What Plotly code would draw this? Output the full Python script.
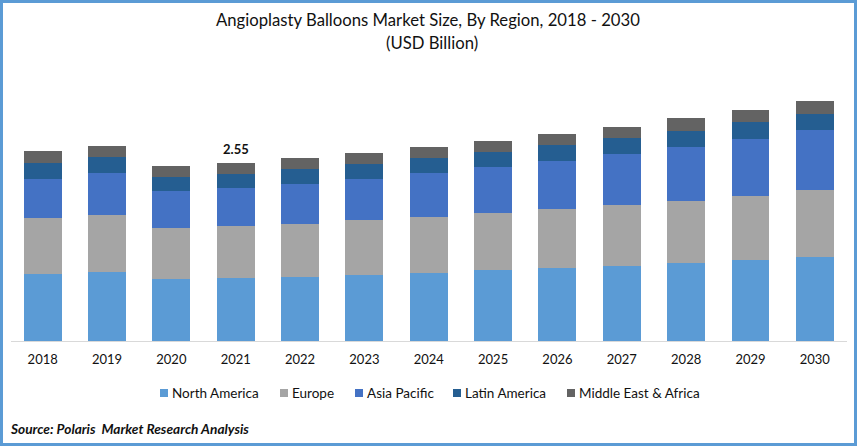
import plotly.graph_objects as go

years = ["2018","2019","2020","2021","2022","2023","2024","2025","2026","2027","2028","2029","2030"]
north_america = [0.96,0.99,0.89,0.90,0.92,0.945,0.97,1.02,1.05,1.07,1.12,1.16,1.20]
europe = [0.80,0.82,0.73,0.745,0.76,0.79,0.80,0.82,0.845,0.88,0.89,0.92,0.96]
asia_pacific = [0.56,0.59,0.53,0.545,0.57,0.59,0.63,0.66,0.69,0.73,0.77,0.82,0.86]
latin_america = [0.23,0.23,0.20,0.20,0.215,0.215,0.215,0.215,0.23,0.23,0.23,0.24,0.23]
mea = [0.17,0.17,0.16,0.16,0.16,0.16,0.16,0.15,0.15,0.16,0.18,0.17,0.19]
series_names = ["North America","Europe","Asia Pacific","Latin America","Middle East & Africa"]
series_colors = ["#5B9BD5","#A5A5A5","#4472C4","#255E91","#636363"]
series_values = [north_america, europe, asia_pacific, latin_america, mea]

W, H = 857, 446
FONT = "Lato, Carlito, Calibri, sans-serif"
TXT = "#111111"
def px(x): return x / W
def py(y): return (H - y) / H

fig = go.Figure()
for name, vals, col in zip(series_names, series_values, series_colors):
    fig.add_bar(name=name, x=years, y=vals, marker=dict(color=col, line=dict(width=0)), showlegend=False)

shapes = [dict(type="rect", xref="paper", yref="paper", x0=px(1.5), x1=px(W-1.5), y0=py(H-1.5), y1=py(1.5),
               line=dict(color="#5B9BD5", width=3), fillcolor="rgba(0,0,0,0)")]
annotations = [
    dict(text="Angioplasty Balloons Market Size, By Region, 2018 - 2030", xref="paper", yref="paper",
         x=px(428), y=py(20), xanchor="center", yanchor="middle", showarrow=False, font=dict(size=16.7)),
    dict(text="(USD Billion)", xref="paper", yref="paper",
         x=px(432), y=py(43), xanchor="center", yanchor="middle", showarrow=False, font=dict(size=16.7)),
    dict(text="<b>2.55</b>", x=3, y=2.55, xref="x", yref="y", yanchor="bottom", yshift=4,
         showarrow=False, font=dict(size=13)),
    dict(text="<b><i>Source: Polaris\u00a0 Market Research Analysis</i></b>", xref="paper", yref="paper",
         x=px(8), y=py(428), xanchor="left", yanchor="middle", showarrow=False, font=dict(size=13.7)),
]
swatch_x = [160, 280, 355, 453, 567]
for sx, name, col in zip(swatch_x, series_names, series_colors):
    shapes.append(dict(type="rect", xref="paper", yref="paper", x0=px(sx), x1=px(sx+8), y0=py(397), y1=py(389),
                       fillcolor=col, line=dict(width=0)))
    annotations.append(dict(text=name, xref="paper", yref="paper", x=px(sx+10), y=py(393), xanchor="left",
                            yanchor="middle", showarrow=False, font=dict(size=13.5)))

fig.update_layout(
    barmode="stack", bargap=0.41, width=W, height=H,
    margin=dict(l=0, r=0, t=0, b=0, autoexpand=False),
    paper_bgcolor="white", plot_bgcolor="white",
    font=dict(family=FONT, size=13, color=TXT),
    showlegend=False,
    xaxis=dict(domain=[px(10.5), px(847)], type="category", range=[-0.5, 12.5], showline=True, linecolor="#D9D9D9",
               linewidth=1, ticks="", showgrid=False, tickfont=dict(size=13, color=TXT), ticklabelstandoff=6,
               automargin=False),
    yaxis=dict(domain=[py(341), py(60)], range=[0, 4.026], visible=False, showgrid=False),
    shapes=shapes, annotations=annotations,
)
fig.write_html("out.html", config=dict(displayModeBar=False), post_script="document.body.style.margin='0';")
